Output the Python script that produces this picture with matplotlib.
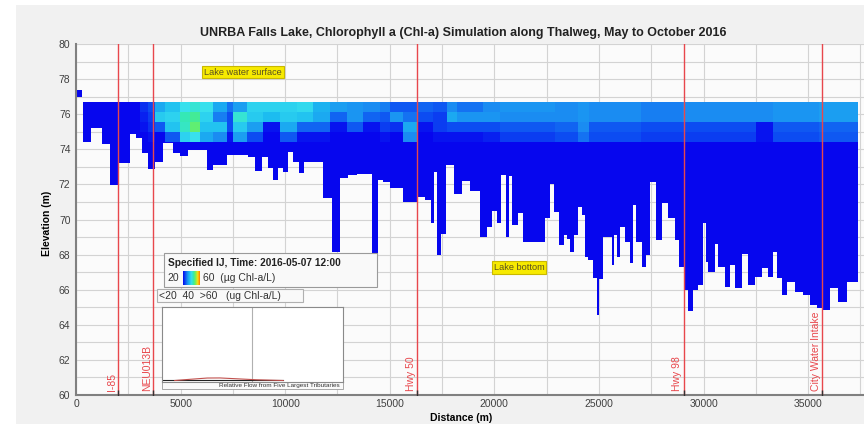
import numpy as np
import matplotlib.pyplot as plt
from matplotlib.colors import LinearSegmentedColormap
from matplotlib.patches import Rectangle, PathPatch
from matplotlib.path import Path

plt.rcParams['font.family'] = ['Liberation Sans', 'DejaVu Sans']

W, H = 864, 424

# water surface and bottom profile along the thalweg (m)
water_surface = 76.7
seg_edges = [320, 703, 1228, 1625, 2022, 2581, 2868, 3140, 3456, 3776, 4173, 4622, 4971, 5368, 6248, 6563, 7203, 7600,
             8238, 8556, 8876, 9194, 9433, 9672, 9910, 10150, 10388, 10660, 10898, 11822, 12221, 12619, 13017, 13416,
             13734, 14133, 14452, 14690, 15009, 15200,
             15646, 16363, 16682, 16955, 17112, 17272, 17431, 17686, 18068, 18435, 18833, 19311, 19630, 19870, 20109,
             20315, 20554, 20697, 20856, 21143, 21382, 22418, 22657, 22848,
             23102, 23326, 23470, 23613, 23804, 24010, 24172, 24330, 24488, 24727, 24889, 25014, 25176, 25607, 25716,
             25874, 26003, 26242, 26481, 26610, 26768, 27040, 27246, 27437, 27724, 27996, 28312, 28632, 28837, 29062,
             29268, 29478, 29746, 29985, 30100, 30224, 30544, 30702, 31022, 31261, 31500, 31820, 32136, 32456, 32776,
             33092, 33331, 33493, 33732, 33971, 34368, 34765, 35085, 35405, 35721, 36041, 36438, 36839, 37380]
seg_bottom = [74.43, 75.23, 74.28, 71.97, 73.2, 74.85, 74.63, 73.77, 72.88, 73.3, 74.34, 73.77, 73.62, 73.96, 72.82,
              73.1, 73.67,
              73.7, 73.58, 72.74, 73.58, 72.95, 72.25, 72.95, 72.69, 73.86, 73.3, 72.63, 73.3, 71.2, 68.17, 72.35,
              72.54, 72.6, 72.6, 67.98, 72.25, 72.16, 71.8,
              71.78, 71.02, 71.3, 71.11, 69.78, 72.69, 67.98, 69.2, 73.1, 71.46, 72.2, 71.6, 69.0, 69.57, 70.5, 69.78,
              72.54, 69.0, 72.5, 69.7, 70.35, 68.74, 70.07, 72.0,
              70.45, 68.55, 69.1, 68.87, 68.17, 69.12, 70.73, 70.26, 67.88, 67.69, 66.65, 64.56, 66.59, 69.02, 67.41,
              69.12, 67.88, 69.59, 68.74, 67.5, 70.83, 68.74, 67.31, 67.98, 72.15, 68.83, 70.96, 70.1, 68.83, 67.31,
              65.98, 64.8, 65.98, 66.27, 69.78, 67.6, 67.03, 68.6, 67.31, 66.17, 67.41, 66.08, 68.02, 66.27, 66.74,
              67.22, 66.74, 68.13, 66.65, 65.7, 66.46, 65.89, 65.7, 65.13, 64.94, 64.85, 66.08, 65.32, 66.46]
cell0_x = [0, 270]
cell0_z = [77.0, 77.4]

# Chl-a (ug/L) in the top four layers, by column
layer_edges = [60.0, 74.4, 74.98, 75.55, 76.12, 76.7]
col_edges = [0, 3060, 3450, 3780, 4250, 4970, 5450, 5930, 6550, 7200, 7500, 8170, 8940, 9750, 10560, 11330, 12140,
             12950, 13720, 14530, 15010, 15650, 16350, 17070, 17740, 18210, 19450, 20270, 22900, 24000, 24500, 27000,
             29000, 32500, 33300, 35500, 37380]
chl_l1 = [20, 23, 25, 33, 36, 40, 42, 40, 33, 28, 32, 38, 38, 38, 39, 34, 32, 31, 30, 29,
          26, 26, 27, 26, 30, 28, 30, 31, 30, 31, 30, 29, 30, 30, 31, 32]
chl_l2 = [20, 22, 24, 37, 38, 44, 46, 38, 29, 25, 42, 37, 35, 37, 36, 33, 27, 31, 27, 26,
          31, 28, 25, 24, 33, 31, 31, 30, 30, 31, 30, 29, 30, 30, 31, 32]
chl_l3 = [20, 21, 23, 26, 36, 43, 48, 36, 36, 25, 37, 32, 21, 33, 27, 27, 21, 26, 21, 24,
          23, 33, 21, 24, 25, 25, 25, 26, 27, 30, 26, 25, 25, 21, 26, 27]
chl_l4 = [20, 20, 21, 20, 26, 38, 40, 33, 30, 21, 32, 25, 20, 26, 21, 21, 20, 20, 20, 21,
          20, 30, 20, 21, 21, 21, 22, 24, 25, 28, 25, 24, 24, 21, 25, 26]
chl_deep = 15

stations = [2010, 3700, 16320, 29060, 35680]
station_names = ['I-85', 'NEU013B', 'Hwy 50', 'Hwy 98', 'City Water Intake']

# inset: relative flow from tributaries
flow_t = [0.0, 0.07, 0.15, 0.25, 0.32, 0.42, 0.52, 0.67]
flow_black = [0.022, 0.022, 0.022, 0.022, 0.022, 0.022, 0.022, 0.022]
flow_red = [None, 0.02, 0.035, 0.053, 0.054, 0.042, 0.03, 0.02]


def fx(px):
    return px / W


def fy(py):
    return 1 - py / H


cmap = LinearSegmentedColormap.from_list('chl', [
    (0.0, '#0606ee'), (0.125, '#0c4cf2'), (0.25, '#1a8cf2'), (0.375, '#1cbcf0'),
    (0.5, '#38e0ee'), (0.625, '#34eaa8'), (0.75, '#7cf050'), (0.875, '#f8e010'), (1.0, '#ff7a00')])
cmap.set_under('#0606ee')

fig = plt.figure(figsize=(W / 100, H / 100), dpi=100)
fig.patch.set_facecolor('white')
fig.add_artist(Rectangle((fx(16), 0), 1 - fx(16), fy(5), transform=fig.transFigure,
                         facecolor='#f1f1f1', edgecolor='none', zorder=-10))

ax = fig.add_axes([fx(76), fy(395), fx(864 - 76), (395 - 44) / H])
ax.set_facecolor('#fbfbfb')
ax.set_xlim(0, 37670)
ax.set_ylim(60, 80)
ax.set_xticks(np.arange(0, 35001, 5000))
ax.set_xticks(np.arange(0, 37670, 2500), minor=True)
ax.set_yticks(np.arange(60, 81, 2))
ax.set_yticks(np.arange(60, 81, 1), minor=True)
ax.grid(which='both', color='#d3d3d3', lw=0.8)
ax.set_axisbelow(True)
ax.tick_params(which='both', length=0, labelsize=7.5, labelcolor='#404040')
ax.tick_params(axis='y', pad=4)
ax.tick_params(axis='x', pad=3)
for s in ['top', 'right']:
    ax.spines[s].set_visible(False)
for s in ['left', 'bottom']:
    ax.spines[s].set_color('#808080')
    ax.spines[s].set_linewidth(1.5)

# concentration field clipped to the lake cross-section
vals = np.array([[chl_deep] * len(chl_l1), chl_l4, chl_l3, chl_l2, chl_l1])
mesh = ax.pcolormesh(col_edges, layer_edges, vals, cmap=cmap, vmin=20, vmax=60,
                     shading='flat', antialiased=False, zorder=2)
verts = [(seg_edges[0], water_surface), (seg_edges[-1], water_surface)]
for i in range(len(seg_bottom) - 1, -1, -1):
    verts.append((seg_edges[i + 1], seg_bottom[i]))
    verts.append((seg_edges[i], seg_bottom[i]))
verts.append(verts[0])
clip = PathPatch(Path(verts, closed=True), transform=ax.transData, facecolor='none', edgecolor='none')
ax.add_patch(clip)
mesh.set_clip_path(clip)
ax.bar(cell0_x[0], cell0_z[1] - cell0_z[0], width=cell0_x[1] - cell0_x[0], bottom=cell0_z[0],
       align='edge', color='#0606ee', zorder=2)

for xs, name in zip(stations, station_names):
    ax.axvline(xs, color='#e8474c', lw=1, zorder=3)
    ax.plot([xs], [60.1], marker='|', color='#333333', ms=4, zorder=3)
    ax.text(xs - 70, 60.2, name, rotation=90, ha='right', va='bottom', color='#e8474c', fontsize=7.5, zorder=3)

box = dict(boxstyle='square,pad=0.2', facecolor='#f7ea00', edgecolor='#c9b800', lw=0.8)
ax.text(7980, 78.4, 'Lake water surface', fontsize=6.6, color='#5a5020', ha='center', va='center', bbox=box)
ax.text(21180, 67.25, 'Lake bottom', fontsize=6.6, color='#5a5020', ha='center', va='center', bbox=box)

ax.set_ylabel('Elevation (m)', fontsize=7.5, fontweight='bold')
ax.yaxis.set_label_coords(-0.03, 0.49)
ax.set_xlabel('Distance (m)', fontsize=7.5, fontweight='bold')
ax.xaxis.set_label_coords(0.489, -0.05)

fig.text(fx(463), fy(33), 'UNRBA Falls Lake, Chlorophyll a (Chl-a) Simulation along Thalweg, May to October 2016',
         ha='center', va='center', fontsize=9.0, fontweight='bold', color='#222222')

# legend boxes
fig.add_artist(Rectangle((fx(164), fy(287)), fx(377 - 164), (287 - 253) / H, transform=fig.transFigure,
                         facecolor='#f9f9f9', edgecolor='#9a9a9a', lw=0.8, zorder=5))
fig.text(fx(168), fy(263), 'Specified IJ, Time: 2016-05-07 12:00', fontsize=7.3, fontweight='bold',
         va='center', color='#222222', zorder=6)
fig.text(fx(167), fy(278), '20', fontsize=7.5, va='center', color='#333333', zorder=6)
fig.text(fx(203), fy(278), '60  (\u00b5g Chl-a/L)', fontsize=7.5, va='center', color='#333333', zorder=6)
cax = fig.add_axes([fx(183), fy(285), fx(200 - 183), (285 - 271) / H], zorder=6)
cax.imshow(np.linspace(20, 60, 64)[None, :], cmap=cmap, vmin=20, vmax=60, aspect='auto')
cax.axis('off')

fig.add_artist(Rectangle((fx(157), fy(302)), fx(303 - 157), (302 - 289) / H, transform=fig.transFigure,
                         facecolor='#f9f9f9', edgecolor='#b0b0b0', lw=0.8, zorder=5))
fig.text(fx(159), fy(296), '<20  40  >60   (ug Chl-a/L)', fontsize=7.5, va='center', color='#333333', zorder=6)

# inset flow chart
iax = fig.add_axes([fx(162), fy(382), fx(343 - 162), (382 - 307) / H], zorder=6)
iax.set_facecolor('white')
iax.set_xlim(0, 1)
iax.set_ylim(0, 1)
iax.set_xticks([])
iax.set_yticks([])
for s in iax.spines.values():
    s.set_color('#8a8a8a')
    s.set_linewidth(0.8)
iax.axvline(0.497, color='#b0b0b0', lw=0.8)
iax.plot(flow_t, flow_black, color='#222222', lw=0.8)
iax.plot(flow_t[1:], flow_red[1:], color='#c0504d', lw=0.8)
fig.add_artist(Rectangle((fx(162), fy(388.5)), fx(343 - 162), 6.5 / H, transform=fig.transFigure,
                         facecolor='#fafafa', edgecolor='#9a9a9a', lw=0.6, zorder=6))
fig.text(fx(340), fy(385.3), 'Relative Flow from Five Largest Tributaries', fontsize=4.6, ha='right',
         va='center', color='#333333', zorder=7)

fig.savefig('out.png', dpi=100)
